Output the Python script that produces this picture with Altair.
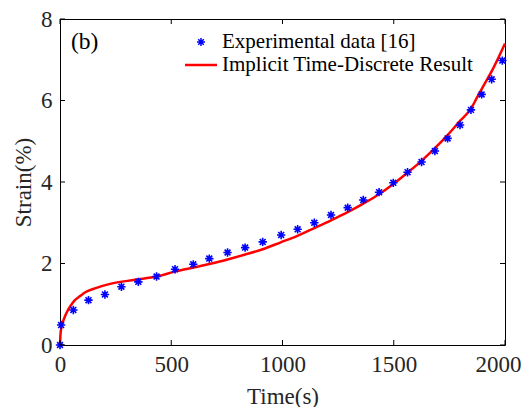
import altair as alt
import pandas as pd

# Experimental data [16]
exp_t = [0, 5, 60, 128, 202, 276, 352, 434, 517, 599, 671, 753, 832, 911, 994, 1068,
         1143, 1218, 1293, 1363, 1434, 1498, 1562, 1625, 1685, 1742, 1798, 1847, 1895, 1940, 1988]
exp_s = [0, 0.49, 0.86, 1.10, 1.24, 1.43, 1.55, 1.68, 1.86, 1.98, 2.12, 2.27, 2.39, 2.53, 2.70, 2.84,
         3.00, 3.19, 3.37, 3.56, 3.75, 3.98, 4.24, 4.49, 4.76, 5.07, 5.40, 5.77, 6.15, 6.52, 6.98]

# Implicit time-discrete result
sim_t = [0, 2, 7, 15, 22, 35, 45, 67, 90, 112, 157, 225, 337, 434, 517, 599, 671, 753, 832, 911,
         992, 1067, 1143, 1218, 1293, 1363, 1434, 1498, 1562, 1625, 1685, 1742, 1798, 1847, 1872,
         1900, 1947, 2000]
sim_s = [0, 0.25, 0.45, 0.60, 0.70, 0.85, 0.94, 1.10, 1.20, 1.29, 1.39, 1.50, 1.60, 1.68, 1.80,
         1.90, 1.99, 2.10, 2.22, 2.35, 2.52, 2.68, 2.87, 3.06, 3.26, 3.47, 3.70, 3.95, 4.23, 4.52,
         4.83, 5.15, 5.50, 5.80, 6.05, 6.33, 6.79, 7.40]

x_ticks = [0, 500, 1000, 1500, 2000]
y_ticks = [0, 2, 4, 6, 8]

W, H = 445, 326
FONT = "Liberation Serif"
FS = 23
TXT = "#262626"
STAR = "M-1,0L1,0M0,-1L0,1M-0.7,-0.7L0.7,0.7M-0.7,0.7L0.7,-0.7"

exp_df = pd.DataFrame({"t": exp_t, "s": exp_s})
sim_df = pd.DataFrame({"t": sim_t, "s": sim_s})
xt_df = pd.DataFrame({"v": x_ticks})
yt_df = pd.DataFrame({"v": y_ticks})

xscale = alt.Scale(domain=[0, 2000], nice=False, zero=False)
yscale = alt.Scale(domain=[0, 8], nice=False)

common = dict(domain=False, ticks=False, grid=False, labelFlush=False, labelOverlap=False,
              labelFont=FONT, labelFontSize=FS, labelColor=TXT,
              titleFont=FONT, titleFontSize=FS, titleColor=TXT, titleFontWeight="normal")

x_axis = alt.Axis(values=x_ticks, title="Time(s)", labelPadding=8, titleY=58,
                  titleBaseline="alphabetic", format="d",
                  labelOffset={"condition": {"test": "datum.value == 2000", "value": -7}, "value": 0},
                  **common)
y_axis = alt.Axis(values=y_ticks, title="Strain(%)", labelPadding=8, titleX=-37,
                  titleY=H / 2, titleBaseline="middle", titleAngle=-90, format="d", **common)

line = alt.Chart(sim_df).mark_line(color="#FF0000", strokeWidth=2.5, interpolate="monotone").encode(
    x=alt.X("t:Q", scale=xscale, axis=x_axis),
    y=alt.Y("s:Q", scale=yscale, axis=y_axis),
)

pts = alt.Chart(exp_df).mark_point(shape=STAR, size=70, color="#0000FF", strokeWidth=1.6,
                                    filled=False, opacity=1).encode(
    x=alt.X("t:Q", scale=xscale),
    y=alt.Y("s:Q", scale=yscale),
)

tk = 5
xb = alt.Chart(xt_df).mark_rule(color="black", strokeWidth=1).encode(
    x=alt.X("v:Q", scale=xscale), y=alt.value(H), y2=alt.value(H - tk))
xtp = alt.Chart(xt_df).mark_rule(color="black", strokeWidth=1).encode(
    x=alt.X("v:Q", scale=xscale), y=alt.value(0), y2=alt.value(tk))
yl = alt.Chart(yt_df).mark_rule(color="black", strokeWidth=1).encode(
    y=alt.Y("v:Q", scale=yscale), x=alt.value(0), x2=alt.value(tk))
yr = alt.Chart(yt_df).mark_rule(color="black", strokeWidth=1).encode(
    y=alt.Y("v:Q", scale=yscale), x=alt.value(W), x2=alt.value(W - tk))

# legend and panel label
leg_df = pd.DataFrame({"a": [0]})
leg_star = alt.Chart(leg_df).mark_point(shape=STAR, size=64, color="#0000FF", strokeWidth=1.5,
                                         filled=False, opacity=1).encode(
    x=alt.value(141), y=alt.value(23))
leg_line = alt.Chart(leg_df).mark_rule(color="#FF0000", strokeWidth=2.5).encode(
    x=alt.value(125), x2=alt.value(157), y=alt.value(46))
leg_t1 = alt.Chart(leg_df).mark_text(text="Experimental data [16]", font=FONT, fontSize=21,
                                     align="left", baseline="middle", color="black").encode(
    x=alt.value(162), y=alt.value(23))
leg_t2 = alt.Chart(leg_df).mark_text(text="Implicit Time-Discrete Result", font=FONT, fontSize=21,
                                     align="left", baseline="middle", color="black").encode(
    x=alt.value(162), y=alt.value(46))
lab_b = alt.Chart(leg_df).mark_text(text="(b)", font=FONT, fontSize=23.5,
                                    align="left", baseline="middle", color="black").encode(
    x=alt.value(11), y=alt.value(23))

chart = alt.layer(line, pts, xb, xtp, yl, yr, leg_star, leg_line, leg_t1, leg_t2, lab_b).properties(
    width=W, height=H,
    background="white",
    autosize=alt.AutoSizeParams(type="none"),
    padding={"left": 52, "top": 11, "right": 16, "bottom": 62},
).configure_view(stroke="black", strokeWidth=1)

chart.save("out.html", embed_options={"renderer": "svg", "actions": False})
